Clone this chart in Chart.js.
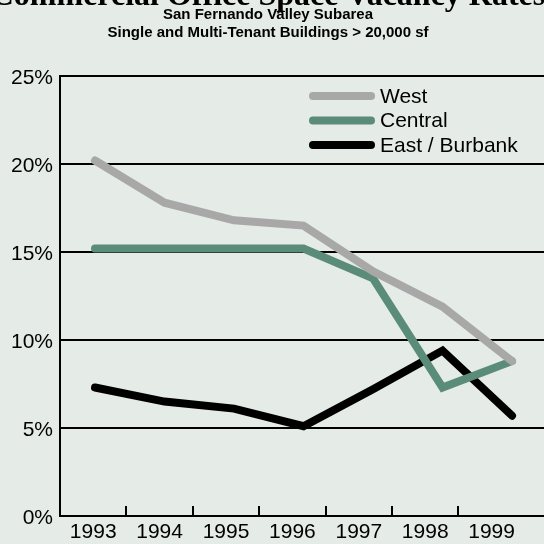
<!DOCTYPE html>
<html>
<head>
<meta charset="utf-8">
<script src="https://cdn.jsdelivr.net/npm/chart.js@4/dist/chart.umd.min.js"></script>
<style>
  html, body { margin: 0; padding: 0; background: #e5ebe7; overflow: hidden; width: 544px; height: 544px; }
  #vacancyChart { position: absolute; left: -60px; top: -12px; }
</style>
</head>
<body>
<canvas id="vacancyChart" width="656" height="556"></canvas>
<script>
const years = [1993, 1994, 1995, 1996, 1997, 1998, 1999];
const west = [20.2, 17.8, 16.8, 16.5, 13.9, 11.9, 8.8];
const central = [15.2, 15.2, 15.2, 15.2, 13.5, 7.3, 8.8];
const eastBurbank = [7.3, 6.5, 6.1, 5.1, 7.2, 9.4, 5.7];
const yTicks = [0, 5, 10, 15, 20, 25];

const sans = '"Liberation Sans", Arial, sans-serif';

const toPoints = (values) => values.map((v, i) => ({ x: years[i], y: v }));

const series = (label, values, color) => ({
  label,
  data: toPoints(values),
  xAxisID: 'x',
  yAxisID: 'y',
  borderColor: color,
  backgroundColor: color,
  borderWidth: 8,
  borderCapStyle: 'round',
  borderJoinStyle: 'miter',
  pointRadius: 0,
  tension: 0,
  fill: false,
});

// legend sits inside the plot, top right
const insideLegend = {
  id: 'insideLegend',
  afterDatasetsDraw(chart) {
    const { ctx, chartArea } = chart;
    ctx.save();
    ctx.font = '21px ' + sans;
    ctx.textBaseline = 'middle';
    ctx.fillStyle = '#000';
    chart.data.datasets.forEach((ds, i) => {
      const y = chartArea.top + 20 + i * 24.5;
      const x0 = chartArea.left + 253;
      ctx.beginPath();
      ctx.lineWidth = ds.borderWidth;
      ctx.lineCap = 'round';
      ctx.strokeStyle = ds.borderColor;
      ctx.moveTo(x0, y);
      ctx.lineTo(x0 + 58, y);
      ctx.stroke();
      ctx.fillText(ds.label, x0 + 67, y + 1);
    });
    ctx.restore();
  }
};

new Chart(document.getElementById('vacancyChart'), {
  type: 'line',
  data: {
    datasets: [
      series('West', west, '#a8a8a8'),
      series('Central', central, '#5b8c7a'),
      series('East / Burbank', eastBurbank, '#000000'),
    ]
  },
  options: {
    responsive: false,
    animation: false,
    devicePixelRatio: 1,
    layout: { padding: 0 },
    scales: {
      // data positions
      x: {
        type: 'linear',
        display: false,
        min: 1992.4964,
        max: 2000.2086,
      },
      // year labels and the small inward tick marks between them
      yr: {
        type: 'linear',
        position: 'bottom',
        min: 0,
        max: 8.072,
        bounds: 'data',
        afterBuildTicks: (scale) => {
          scale.ticks = years.map((_, i) => ({ value: i + 0.5 }));
        },
        afterFit: (scale) => { scale.height = 28; },
        border: { display: true, color: '#000', width: 2 },
        grid: {
          offset: true,
          drawOnChartArea: false,
          drawTicks: true,
          tickLength: -10,
          lineWidth: 2,
          color: (c) => (c.index >= 1 && c.index <= 6) ? '#000' : 'rgba(0,0,0,0)',
        },
        ticks: {
          autoSkip: false,
          maxRotation: 0,
          padding: 14,
          color: '#000',
          font: { family: sans, size: 21 },
          callback: (v, i) => String(years[i]),
        },
      },
      y: {
        min: 0,
        max: 25,
        afterBuildTicks: (scale) => {
          scale.ticks = yTicks.map((v) => ({ value: v }));
        },
        afterFit: (scale) => { scale.width = 120; },
        border: { display: true, color: '#000', width: 2 },
        grid: {
          color: '#000',
          lineWidth: 2,
          drawTicks: false,
        },
        ticks: {
          padding: 7,
          labelOffset: 2.5,
          color: '#000',
          font: { family: sans, size: 21 },
          callback: (v) => v + '%',
        },
      },
    },
    plugins: {
      legend: { display: false },
      tooltip: { enabled: false },
      title: {
        display: true,
        text: 'Commercial Office Space Vacancy Rates',
        color: '#000',
        padding: 0,
        font: { family: '"Liberation Serif", "Times New Roman", serif', size: 32, weight: 'bold', lineHeight: 0.5625 },
      },
      subtitle: {
        display: true,
        text: ['San Fernando Valley Subarea', 'Single and Multi-Tenant Buildings > 20,000 sf'],
        color: '#000',
        padding: { top: 0, bottom: 34 },
        font: { family: sans, size: 15, weight: 'bold', lineHeight: 1.2 },
      },
    },
  },
  plugins: [insideLegend],
});
</script>
</body>
</html>
